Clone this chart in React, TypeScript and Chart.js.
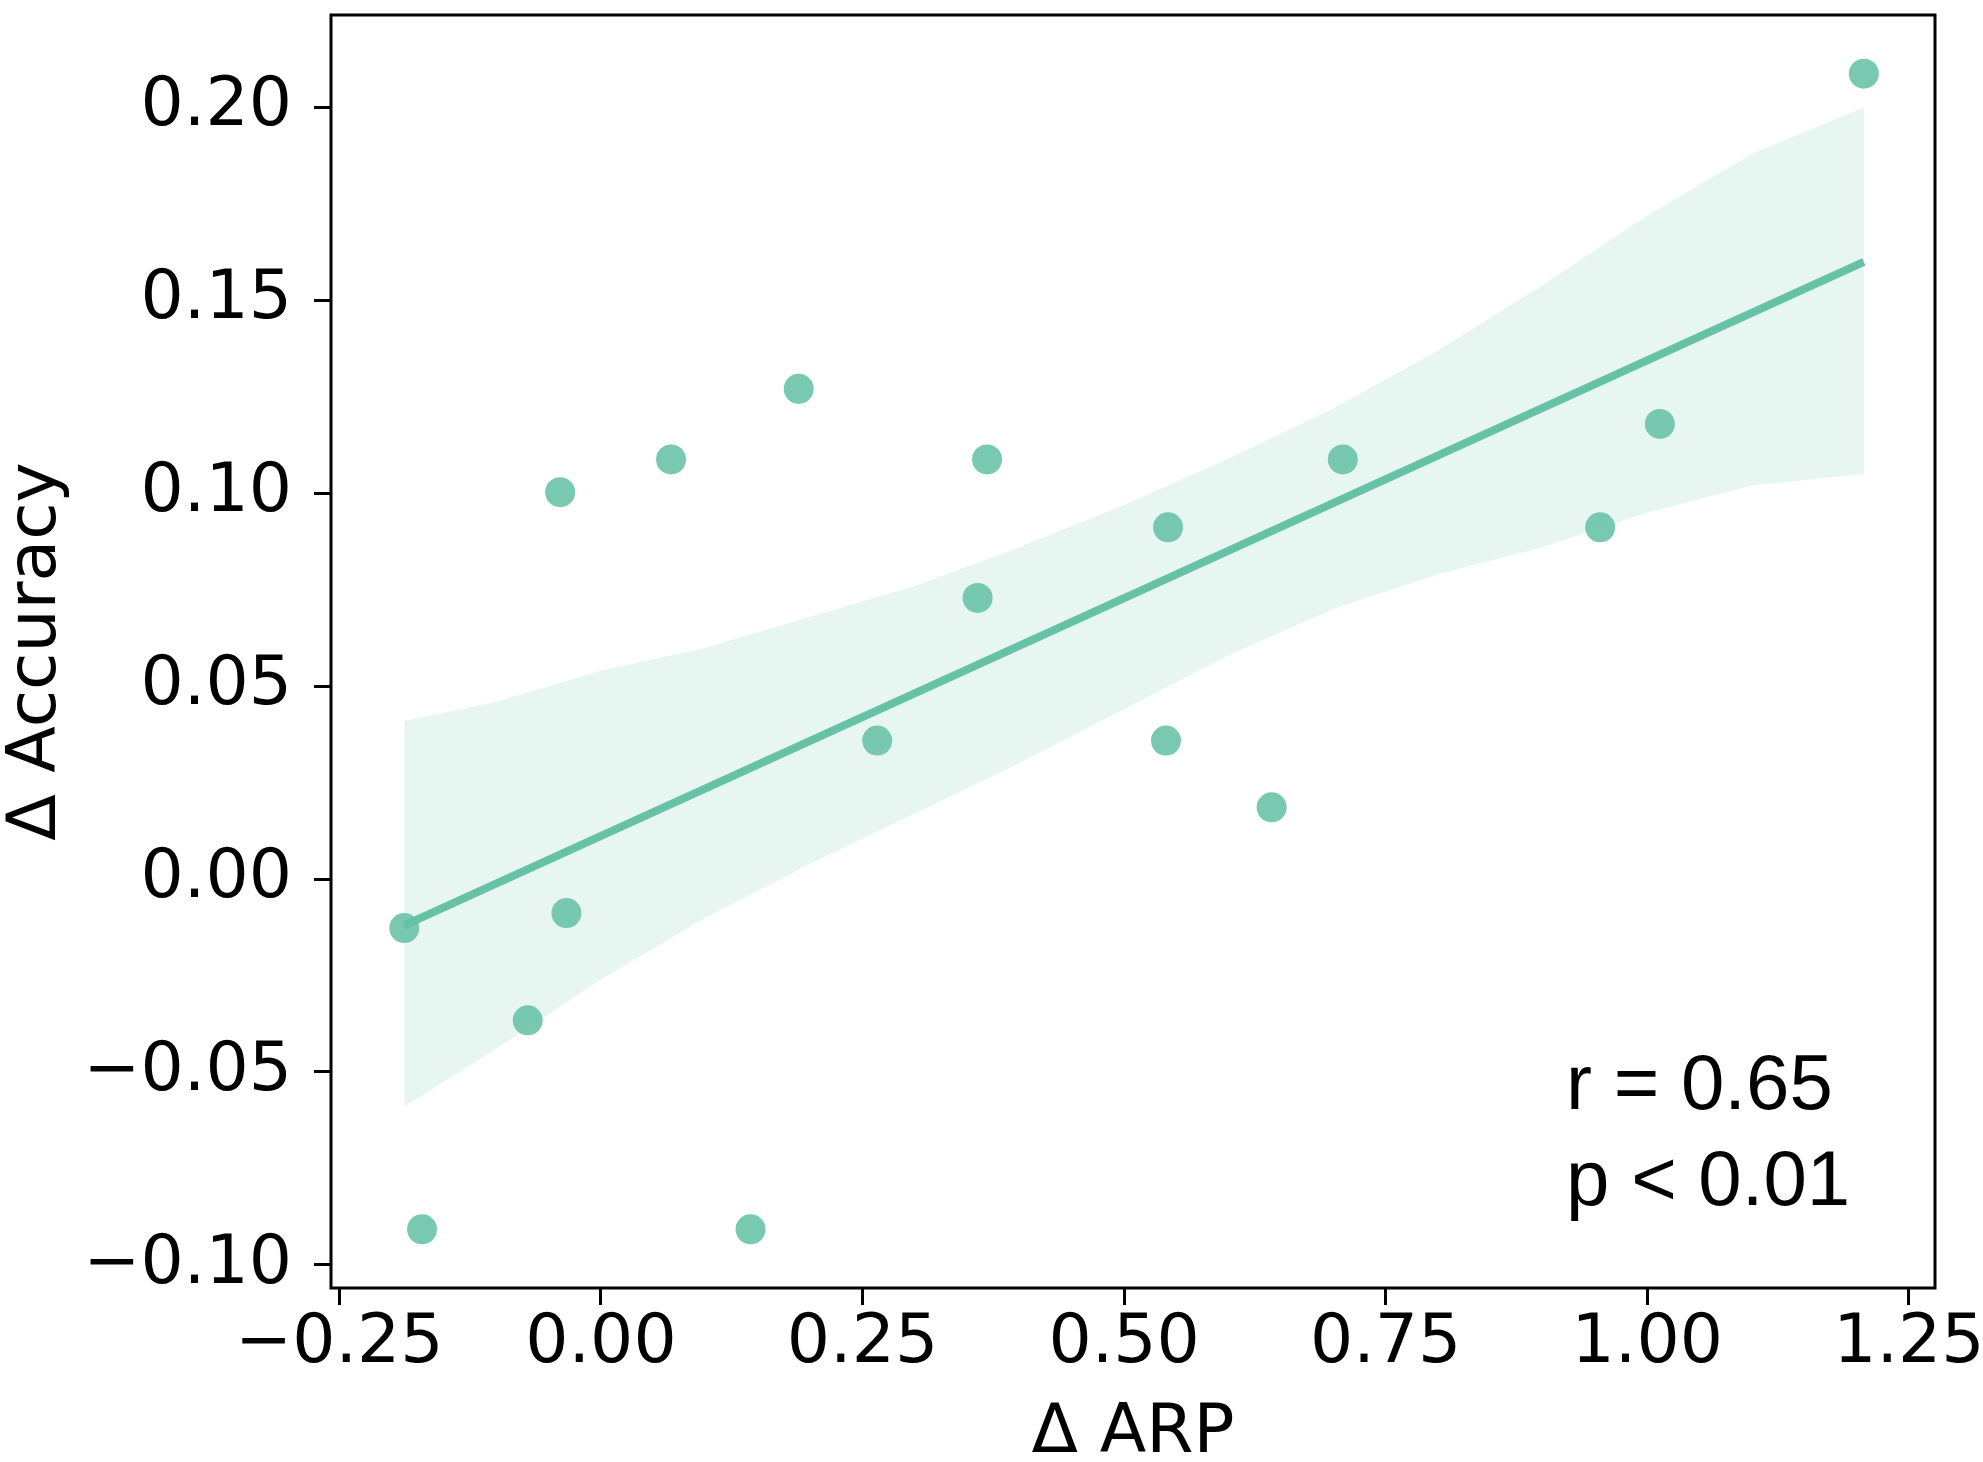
import { useEffect, useRef } from 'react';
import { Chart, registerables } from 'chart.js';

Chart.register(...registerables);

// scatter values
const arpDelta = [-0.188, -0.171, -0.07, -0.039, -0.033, 0.067, 0.143, 0.189, 0.264, 0.36, 0.369, 0.542, 0.54, 0.641, 0.709, 0.955, 1.012, 1.207];
const accuracyDelta = [-0.0127, -0.0908, -0.0366, 0.1003, -0.0088, 0.1088, -0.0908, 0.1271, 0.0359, 0.0729, 0.1088, 0.0912, 0.0359, 0.0186, 0.1088, 0.0912, 0.118, 0.2088];

// regression line ends
const fitX = [-0.188, 1.207];
const fitY = [-0.012, 0.16];

// confidence band edges
const bandX = [-0.188, -0.1, 0.0, 0.1, 0.2, 0.3, 0.4, 0.5, 0.6, 0.7, 0.8, 0.9, 1.0, 1.1, 1.207];
const bandUpper = [0.041, 0.046, 0.054, 0.06, 0.068, 0.076, 0.086, 0.097, 0.109, 0.122, 0.137, 0.154, 0.172, 0.188, 0.2];
const bandLower = [-0.059, -0.044, -0.026, -0.01, 0.004, 0.017, 0.03, 0.044, 0.058, 0.07, 0.079, 0.086, 0.095, 0.102, 0.105];

const xTicks = [-0.25, 0, 0.25, 0.5, 0.75, 1.0, 1.25];
const yTicks = [-0.1, -0.05, 0, 0.05, 0.1, 0.15, 0.2];
const statLines = ['r = 0.65', 'p < 0.01'];

const GREEN = '#66c2a5';
const tickFont = { family: '"DejaVu Sans", sans-serif', size: 68, lineHeight: 1.1 };
const xTitleFont = { family: '"DejaVu Sans", sans-serif', size: 68, lineHeight: 0.8 };

const fmt = (v: number) => (v < 0 ? '\u2212' : '') + Math.abs(v).toFixed(2);
const pairs = (xs: number[], ys: number[]) => xs.map((x, i) => ({ x, y: ys[i] }));

const frame = {
  id: 'frame',
  afterDraw(chart: any) {
    const { ctx, chartArea: a } = chart;
    ctx.save();
    ctx.strokeStyle = '#000';
    ctx.lineWidth = 3;
    ctx.strokeRect(a.left, a.top, a.right - a.left, a.bottom - a.top);
    ctx.fillStyle = '#000';
    ctx.font = '78px "Liberation Sans", Arial, sans-serif';
    ctx.textBaseline = 'alphabetic';
    const w = a.right - a.left;
    const h = a.bottom - a.top;
    statLines.forEach((t, i) => {
      ctx.fillText(t, a.left + 0.77 * w, a.top + (0.859 + i * 0.076) * h);
    });
    ctx.restore();
  },
};

export default function App() {
  const canvasRef = useRef<HTMLCanvasElement>(null);
  const chartRef = useRef<Chart | null>(null);

  useEffect(() => {
    document.body.style.margin = '0';
    if (!canvasRef.current) return;
    if (chartRef.current) chartRef.current.destroy();

    chartRef.current = new Chart(canvasRef.current, {
      type: 'scatter',
      data: {
        datasets: [
          {
            type: 'line',
            data: pairs(fitX, fitY),
            borderColor: GREEN,
            borderWidth: 8,
            pointRadius: 0,
            fill: false,
          },
          {
            type: 'line',
            data: pairs(bandX, bandUpper),
            borderWidth: 0,
            borderColor: 'rgba(0,0,0,0)',
            pointRadius: 0,
            backgroundColor: 'rgba(102,194,165,0.15)',
            fill: '+1',
          },
          {
            type: 'line',
            data: pairs(bandX, bandLower),
            borderWidth: 0,
            borderColor: 'rgba(0,0,0,0)',
            pointRadius: 0,
            fill: false,
          },
          {
            data: pairs(arpDelta, accuracyDelta),
            backgroundColor: 'rgba(102,194,165,0.88)',
            borderWidth: 0,
            pointRadius: 15,
          },
        ],
      } as any,
      options: {
        responsive: true,
        maintainAspectRatio: false,
        animation: false,
        layout: { padding: { top: 11, right: 48, left: 0, bottom: 0 } },
        plugins: {
          legend: { display: false },
          tooltip: { enabled: false },
        },
        scales: {
          x: {
            type: 'linear',
            min: -0.258,
            max: 1.275,
            afterBuildTicks: (s: any) => {
              s.ticks = xTicks.map((value) => ({ value }));
            },
            afterFit: (s: any) => {
              s.height = 174;
              s.paddingLeft = 0;
              s.paddingRight = 0;
            },
            border: { display: false },
            grid: { drawOnChartArea: false, drawTicks: true, tickLength: 17, lineWidth: 3, color: '#000' },
            ticks: { color: '#000', font: tickFont, padding: 2, maxRotation: 0, callback: (v: any) => fmt(Number(v)) },
            title: { display: true, text: '\u0394 ARP', color: '#000', font: xTitleFont, padding: 0 },
          },
          y: {
            type: 'linear',
            min: -0.106,
            max: 0.224,
            afterBuildTicks: (s: any) => {
              s.ticks = yTicks.map((value) => ({ value }));
            },
            afterFit: (s: any) => {
              s.width = 331;
              s.paddingTop = 0;
              s.paddingBottom = 0;
            },
            border: { display: false },
            grid: { drawOnChartArea: false, drawTicks: true, tickLength: 17, lineWidth: 3, color: '#000' },
            ticks: { color: '#000', font: tickFont, padding: 22, callback: (v: any) => fmt(Number(v)) },
            title: { display: true, text: '\u0394 Accuracy', color: '#000', font: tickFont, padding: 0 },
          },
        },
      },
      plugins: [frame],
    });

    return () => {
      if (chartRef.current) {
        chartRef.current.destroy();
        chartRef.current = null;
      }
    };
  }, []);

  return (
    <div style={{ position: 'relative', width: 1983, height: 1462, background: '#fff' }}>
      <canvas ref={canvasRef} />
    </div>
  );
}
